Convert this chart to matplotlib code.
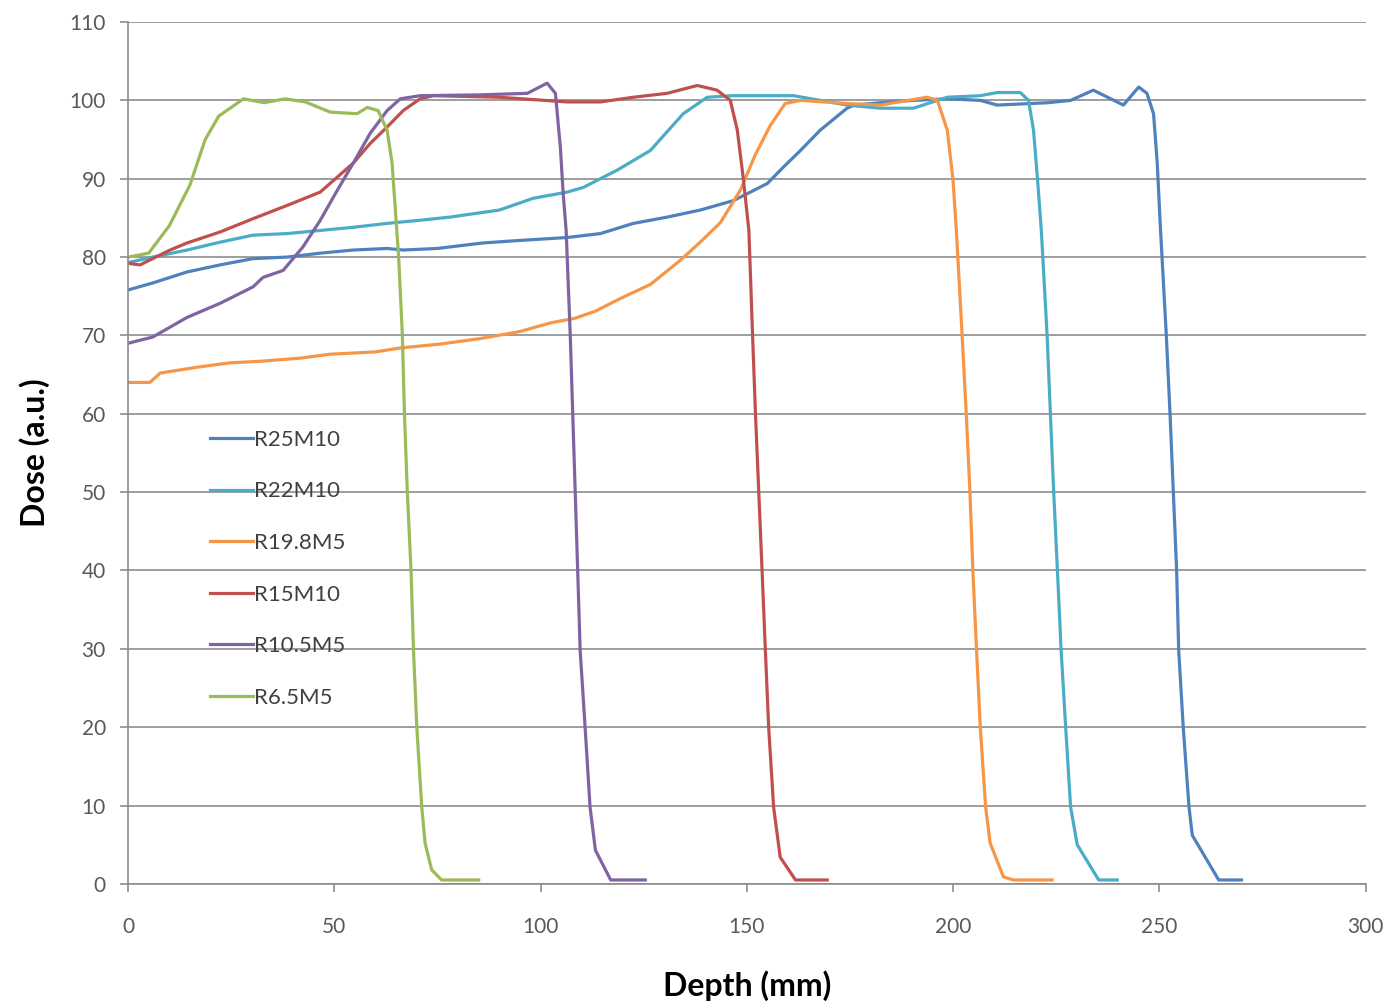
import matplotlib.pyplot as plt

# Depth-dose profiles (depth in mm, dose in a.u.)
r25_depth = [0, 6, 14.3, 22.3, 30.3, 38.6, 46.6, 54.6, 62.8, 66.7, 75, 86, 94.3,
             106.5, 114.5, 122.5, 130.7, 138.7, 146.7, 150.9, 155, 158.9, 163,
             167.8, 174.3, 176, 182.4, 190.4, 198.6, 206.6, 210.7, 222.9, 228.5,
             234, 241.3, 245, 247, 248.6, 249.5, 250.3, 251.7, 252.6, 253.4,
             254.2, 254.7, 255.8, 257.2, 258, 264.4, 269.9]
r25_dose = [75.8, 76.7, 78.1, 79.0, 79.8, 80.0, 80.5, 80.9, 81.1, 80.9, 81.1, 81.8,
            82.1, 82.5, 83.0, 84.3, 85.1, 86.0, 87.2, 88.3, 89.4, 91.5, 93.6,
            96.2, 99.0, 99.4, 99.7, 100.0, 100.2, 100.0, 99.4, 99.7, 100.0,
            101.3, 99.4, 101.7, 100.9, 98.3, 92.0, 83.4, 70.0, 60.0, 50.0,
            40.0, 29.8, 20.0, 9.8, 6.2, 0.5, 0.5]

r22_depth = [0, 6, 14.3, 22.3, 30.3, 38.6, 46.6, 54.6, 62.8, 70.8, 78, 90, 98.2,
             106.5, 110.4, 118.6, 126.6, 134.6, 140.4, 146.7, 161.3, 174.3,
             182.4, 190.4, 198.6, 206.6, 210.7, 216.3, 218.3, 219.5, 220.5,
             221.4, 222.8, 223.6, 224.4, 225.3, 226.2, 227.3, 228.5, 230.1,
             235.3, 239.8]
r22_dose = [79.3, 80.0, 80.9, 81.9, 82.8, 83.0, 83.4, 83.8, 84.3, 84.7, 85.1, 86.0,
            87.5, 88.3, 88.9, 91.1, 93.6, 98.3, 100.4, 100.6, 100.6, 99.4, 99.0,
            99.0, 100.4, 100.6, 101.0, 101.0, 100.0, 96.2, 89.8, 83.4, 70.0,
            60.0, 50.0, 40.0, 29.8, 20.0, 9.8, 5.0, 0.5, 0.5]

r198_depth = [0, 5.3, 7.8, 12.6, 17.5, 24.7, 32, 41.7, 49, 60, 66, 75.7, 85.4, 95,
              102.4, 108.4, 113.3, 119.3, 126.6, 133.9, 138.7, 143.6, 148.4, 152,
              155.7, 159.3, 163, 174.3, 182.4, 193.7, 196.2, 198.6, 200, 200.8,
              202.2, 203.2, 204.1, 204.8, 205.7, 206.6, 207.9, 209, 212.2, 214.6,
              224]
r198_dose = [64.0, 64.0, 65.2, 65.6, 66.0, 66.5, 66.7, 67.1, 67.6, 67.9, 68.4, 68.9,
             69.6, 70.5, 71.6, 72.2, 73.1, 74.7, 76.5, 79.6, 81.9, 84.4, 88.5,
             93.0, 96.8, 99.6, 100.0, 99.6, 99.4, 100.4, 100.0, 96.2, 89.8, 83.4,
             70.0, 60.0, 50.0, 40.0, 29.8, 20.0, 9.8, 5.2, 0.9, 0.5, 0.5]

r15_depth = [0, 2.9, 10.2, 14.3, 22.3, 30.3, 38.6, 46.6, 54.6, 58.7, 62.8, 66.7,
             70.8, 74, 90, 106.5, 114.5, 122.5, 130.7, 138, 142.8, 146, 147.7,
             149.2, 150.5, 151.4, 152.1, 152.9, 153.7, 154.5, 155.3, 156.5,
             158.1, 161.8, 169.5]
r15_dose = [79.2, 79.0, 80.9, 81.8, 83.2, 84.9, 86.6, 88.3, 92.0, 94.5, 96.6, 98.7,
            100.2, 100.6, 100.4, 99.8, 99.8, 100.4, 100.9, 101.9, 101.3, 100.0,
            96.2, 89.8, 83.4, 70.0, 60.0, 50.0, 40.0, 29.8, 20.0, 9.8, 3.4, 0.5,
            0.5]

r105_depth = [0, 6, 14.3, 22.3, 30.3, 32.7, 37.6, 42.4, 46.6, 50.7, 54.6, 58.7,
              62.8, 66, 70.8, 85, 96.8, 101.6, 103.6, 104.8, 105.5, 106.2, 107.2,
              107.8, 108.4, 109, 109.6, 110.8, 112, 113.3, 117, 125.4]
r105_dose = [69.0, 69.8, 72.3, 74.1, 76.2, 77.4, 78.3, 81.3, 84.7, 88.5, 92.0, 95.8,
             98.7, 100.2, 100.6, 100.7, 100.9, 102.2, 100.9, 94.0, 88.0, 83.4,
             70.0, 60.0, 50.0, 40.0, 29.8, 20.0, 9.8, 4.3, 0.5, 0.5]

r65_depth = [0, 5, 10, 15, 18.7, 22, 28, 33, 38, 43, 49, 55.5, 58, 60.6, 62.8, 64,
             65.2, 65.6, 66.5, 67, 67.7, 68.6, 69.2, 70, 71.2, 72, 73.6, 76, 85]
r65_dose = [80.0, 80.5, 84.0, 89.2, 95.0, 98.0, 100.2, 99.7, 100.2, 99.8, 98.5,
            98.3, 99.1, 98.7, 96.2, 92.0, 83.0, 80.0, 70.0, 60.0, 50.0, 40.0,
            29.8, 20.0, 9.8, 5.2, 1.8, 0.5, 0.5]

labels = ['R25M10', 'R22M10', 'R19.8M5', 'R15M10', 'R10.5M5', 'R6.5M5']
colors = ['#4F81BD', '#4BACC6', '#F79646', '#C0504D', '#8064A2', '#9BBB59']
depths = [r25_depth, r22_depth, r198_depth, r15_depth, r105_depth, r65_depth]
doses = [r25_dose, r22_dose, r198_dose, r15_dose, r105_dose, r65_dose]

plt.rcParams['font.family'] = ['Lato', 'DejaVu Sans']

fig = plt.figure(figsize=(13.92, 10.01), dpi=100)
ax = fig.add_axes([0.092, 0.117, 0.889, 0.861])

for d, v, lab, c in zip(depths, doses, labels, colors):
    ax.plot(d, v, color=c, lw=2.3, label=lab)

ax.set_xlim(0, 300)
ax.set_ylim(0, 110)
ax.set_xticks(range(0, 301, 50))
ax.set_yticks(range(0, 111, 10))
ax.grid(axis='y', color='#8c8c8c', lw=1.2)
ax.set_axisbelow(True)
for s in ['top', 'right']:
    ax.spines[s].set_visible(False)
for s in ['left', 'bottom']:
    ax.spines[s].set_color('#8c8c8c')
    ax.spines[s].set_linewidth(1.2)
ax.tick_params(colors='#8c8c8c', labelcolor='#595959', labelsize=15,
               length=6, width=1.2, pad=10)
ax.tick_params(axis='x', pad=18)

ax.set_xlabel('Depth (mm)', fontsize=23, fontweight='bold', labelpad=24)
ax.set_ylabel('Dose (a.u.)', fontsize=23, fontweight='bold', labelpad=14)

ax.legend(loc='upper left', bbox_to_anchor=(0.05, 0.55), frameon=False,
          fontsize=16, labelspacing=1.42, handlelength=1.95, handletextpad=0.05,
          labelcolor='#404040')

fig.savefig('out.png', dpi=100)
